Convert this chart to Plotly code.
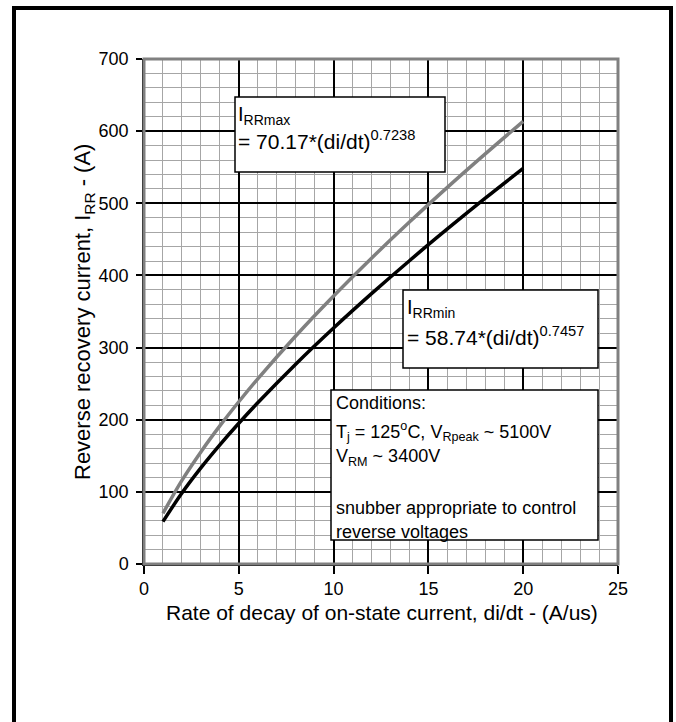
import plotly.graph_objects as go

# Values (di/dt in A/us, current in A)
didt = [1, 2, 3, 4, 5, 6, 8, 10, 12, 14, 16, 18, 20]
irr_max = [70.2, 115.9, 155.4, 191.4, 224.9, 256.7, 316.1, 371.5, 423.9, 474.0, 522.1, 568.5, 613.6]
irr_min = [58.7, 98.5, 133.3, 165.2, 195.1, 223.5, 277.0, 327.1, 374.7, 420.4, 464.4, 507.1, 548.4]

x_ticks = [0, 5, 10, 15, 20, 25]
y_ticks = [0, 100, 200, 300, 400, 500, 600, 700]

FONT = "Liberation Sans, Arial, sans-serif"
W, H = 676, 722
L, R, T, B = 144, 58, 59, 158

fig = go.Figure()
fig.add_trace(go.Scatter(x=didt, y=irr_max, mode="lines", line=dict(color="#808080", width=3.5, shape="spline"), showlegend=False, hoverinfo="skip"))
fig.add_trace(go.Scatter(x=didt, y=irr_min, mode="lines", line=dict(color="#000000", width=3.5, shape="spline"), showlegend=False, hoverinfo="skip"))

axis_common = dict(
    showgrid=True, gridcolor="#000000", gridwidth=1.5,
    zeroline=False, showline=True, linecolor="#000000", linewidth=1.5,
    ticks="outside", tickcolor="#000000", tickwidth=1.5,
    tickfont=dict(family=FONT, size=18, color="#000000"),
)
fig.update_layout(
    width=W, height=H,
    margin=dict(l=L, r=R, t=T, b=B, pad=0),
    paper_bgcolor="white", plot_bgcolor="white",
    font=dict(family=FONT, size=18, color="#000000"),
    xaxis=dict(range=[0, 25], tickvals=x_ticks, ticklen=8, ticklabelstandoff=0,
               minor=dict(dtick=1, tick0=0, showgrid=True, gridcolor="#a6a6a6", gridwidth=1, ticks=""),
               **axis_common),
    yaxis=dict(range=[0, 700], tickvals=y_ticks, ticklen=6, ticklabelstandoff=4,
               minor=dict(dtick=20, tick0=0, showgrid=True, gridcolor="#a6a6a6", gridwidth=1, ticks=""),
               **axis_common),
)

pw = W - L - R
ph = H - T - B
def px(x):
    return (x - L) / pw
def py(y):
    return (H - B - y) / ph

shapes = []
# plot area border (grey)
shapes.append(dict(type="rect", xref="paper", yref="paper", x0=0, x1=1, y0=0, y1=1,
                   line=dict(color="#808080", width=3), layer="above"))
# outer frame
shapes.append(dict(type="rect", xref="paper", yref="paper", x0=px(14), x1=px(671), y0=py(740), y1=py(8),
                   line=dict(color="#000000", width=4), layer="above"))
# text boxes
for (x0, x1, y0, y1) in [(235, 445, 97, 172), (403, 598, 290, 368), (331, 598, 390, 540)]:
    shapes.append(dict(type="rect", xref="paper", yref="paper", x0=px(x0), x1=px(x1), y0=py(y1), y1=py(y0),
                       line=dict(color="#000000", width=1.5), fillcolor="white", layer="above"))
fig.update_layout(shapes=shapes)

ann = []
def txt(x, y, s, size=18):
    ann.append(dict(x=px(x), y=py(y), xref="paper", yref="paper", text=s, showarrow=False,
                    xanchor="left", yanchor="middle", font=dict(family=FONT, size=size, color="#000000")))

txt(236, 115, "I<sub>RRmax</sub>", 20)
txt(236, 140, "= 70.17*(di/dt)<sup>0.7238</sup>", 21)
txt(405, 308, "I<sub>RRmin</sub>", 20)
txt(405, 336, "= 58.74*(di/dt)<sup>0.7457</sup>", 21)
txt(334, 403, "Conditions:")
txt(334, 431, "T<sub>j</sub> = 125<sup>o</sup>C, V<sub>Rpeak</sub> ~ 5100V")
txt(334, 457, "V<sub>RM</sub> ~ 3400V")
txt(334, 508, "snubber appropriate to control")
txt(334, 532, "reverse voltages")

# axis titles
ann.append(dict(x=px(382), y=py(612), xref="paper", yref="paper", text="Rate of decay of on-state current, di/dt - (A/us)",
                showarrow=False, xanchor="center", yanchor="middle", font=dict(family=FONT, size=21)))
ann.append(dict(x=px(84), y=py(312), xref="paper", yref="paper", text="Reverse recovery current, I<sub>RR</sub> - (A)",
                showarrow=False, xanchor="center", yanchor="middle", textangle=-90, font=dict(family=FONT, size=22)))
fig.update_layout(annotations=ann)

fig.write_html("out.html", config={"displayModeBar": False},
               post_script="document.body.style.margin='0px';document.body.style.overflow='hidden';")
